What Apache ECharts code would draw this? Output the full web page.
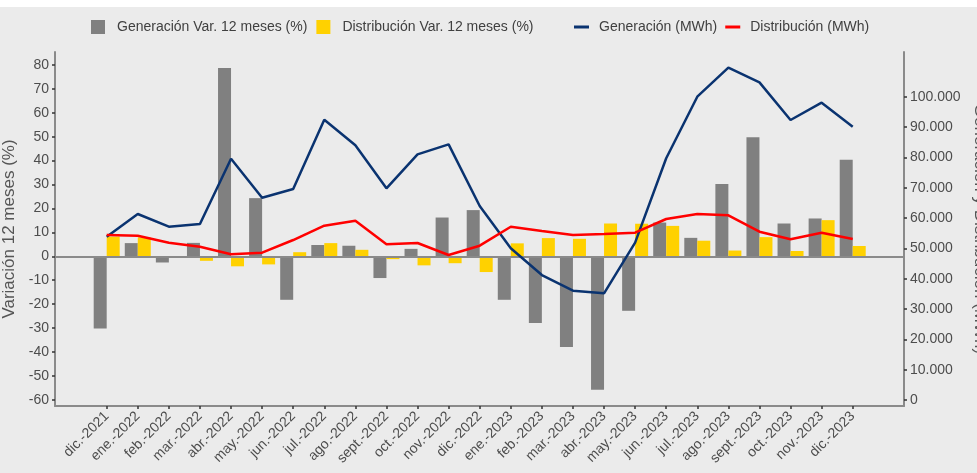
<!DOCTYPE html>
<html>
<head>
<meta charset="utf-8">
<script src="https://cdn.jsdelivr.net/npm/echarts@6/dist/echarts.min.js"></script>
<style>
html,body{margin:0;padding:0;background:#ffffff;}
#chart{position:absolute;left:0;top:7px;width:977px;height:466px;background:#EBEBEB;}
</style>
</head>
<body>
<div id="chart"></div>
<script>
const categories = ['dic.-2021','ene.-2022','feb.-2022','mar.-2022','abr.-2022','may.-2022','jun.-2022','jul.-2022','ago.-2022','sept.-2022','oct.-2022','nov.-2022','dic.-2022','ene.-2023','feb.-2023','mar.-2023','abr.-2023','may.-2023','jun.-2023','jul.-2023','ago.-2023','sept.-2023','oct.-2023','nov.-2023','dic.-2023'];
const genVar = [-30.2, 5.5, -2.6, 5.6, 78.7, 24.3, -18.2, 4.7, 4.4, -9.1, 3.1, 16.2, 19.3, -18.2, -27.9, -37.9, -55.8, -22.8, 14.1, 7.7, 30.2, 49.8, 13.7, 15.8, 40.3];
const distVar = [8.2, 7.9, -0.5, -1.9, -4.2, -3.4, 1.7, 5.5, 2.7, -1.2, -3.8, -2.9, -6.6, 5.4, 7.6, 7.3, 13.7, 13.6, 12.7, 6.5, 2.4, 8.0, 2.2, 15.1, 4.3];
const genMWh = [53840, 61330, 57140, 58030, 79560, 66700, 69570, 92420, 83970, 69790, 81000, 84300, 63960, 50020, 41210, 36040, 35170, 51870, 79690, 100000, 109560, 104740, 92320, 98020, 90110];
const distMWh = [54400, 54170, 51870, 50550, 48030, 48570, 52750, 57470, 59120, 51330, 51760, 47800, 50880, 57140, 55720, 54400, 54730, 55160, 59680, 61330, 60890, 55490, 52980, 55160, 53080];
const leftTicks = [-60, -50, -40, -30, -20, -10, 0, 10, 20, 30, 40, 50, 60, 70, 80];
const rightTicks = [0, 10000, 20000, 30000, 40000, 50000, 60000, 70000, 80000, 90000, 100000];
const catIndex = categories.map((c, i) => i);

const pair = arr => arr.map((v, i) => [i, v]);
const fmtThousands = v => String(v).replace(/\B(?=(\d{3})+(?!\d))/g, '.');

const FONT = 'Liberation Sans, Arial, sans-serif';
const LABEL = '#4d4d4d';
const AXIS = '#8a8a8a';

const chart = echarts.init(document.getElementById('chart'), null, {renderer: 'canvas'});
chart.setOption({
  animation: false,
  textStyle: {fontFamily: FONT},
  legend: [
    {
      left: 86, top: 8,
      itemWidth: 14, itemHeight: 14, itemGap: 9,
      icon: 'rect',
      textStyle: {fontSize: 14, color: '#404040', fontFamily: FONT, padding: [0, 0, 0, 7]},
      data: ['Generación Var. 12 meses (%)', 'Distribución Var. 12 meses (%)']
    },
    {
      left: 569, top: 8,
      itemWidth: 15, itemHeight: 3, itemGap: 8,
      icon: 'rect',
      textStyle: {fontSize: 14, color: '#404040', fontFamily: FONT, padding: [0, 0, 0, 5]},
      data: ['Generación (MWh)', 'Distribución (MWh)']
    }
  ],
  grid: {left: 55, right: 73, top: 45, bottom: 67, containLabel: false, outerBoundsMode: 'none'},
  xAxis: {
    type: 'value',
    min: -1.663, max: 25.65,
    axisLine: {show: true, onZero: false, lineStyle: {color: AXIS, width: 2}},
    axisTick: {show: true, length: 3, customValues: catIndex, lineStyle: {color: '#333', width: 1.5}},
    axisLabel: {
      customValues: catIndex,
      rotate: 45, margin: 8, fontSize: 14, color: LABEL, fontFamily: FONT,
      formatter: v => categories[Math.round(v)] || ''
    },
    splitLine: {show: false}
  },
  yAxis: [
    {
      type: 'value', position: 'left',
      min: -62.6, max: 85.4,
      name: 'Variación 12 meses (%)', nameLocation: 'middle', nameGap: 30,
      nameTextStyle: {fontSize: 17, color: '#555', fontFamily: FONT},
      axisLine: {show: true, onZero: false, lineStyle: {color: AXIS, width: 2}},
      axisTick: {show: true, length: 3, customValues: leftTicks, lineStyle: {color: '#333', width: 1.5}},
      axisLabel: {customValues: leftTicks, margin: 6, fontSize: 14, color: LABEL, fontFamily: FONT},
      splitLine: {show: false}
    },
    {
      type: 'value', position: 'right',
      min: -1978, max: 114740,
      name: 'Generación y Distribución (MWh)', nameLocation: 'middle', nameGap: 66, nameRotate: -90,
      nameTextStyle: {fontSize: 17, color: '#555', fontFamily: FONT},
      axisLine: {show: true, onZero: false, lineStyle: {color: AXIS, width: 2}},
      axisTick: {show: true, length: 3, customValues: rightTicks, lineStyle: {color: '#333', width: 1.5}},
      axisLabel: {customValues: rightTicks, margin: 6, fontSize: 14, color: LABEL, fontFamily: FONT,
        formatter: v => fmtThousands(v)},
      splitLine: {show: false}
    }
  ],
  series: [
    {
      name: 'Generación Var. 12 meses (%)', type: 'bar', yAxisIndex: 0,
      barWidth: 13, barGap: '0%',
      itemStyle: {color: '#808080'},
      data: pair(genVar),
      markLine: {
        silent: true, symbol: 'none', label: {show: false},
        lineStyle: {color: '#8a8a8a', width: 2, type: 'solid'},
        data: [{yAxis: 0}],
        z: 5
      }
    },
    {
      name: 'Distribución Var. 12 meses (%)', type: 'bar', yAxisIndex: 0,
      barWidth: 13, barGap: '0%',
      itemStyle: {color: '#FFD100'},
      data: pair(distVar)
    },
    {
      name: 'Generación (MWh)', type: 'line', yAxisIndex: 1,
      symbol: 'none', z: 10,
      lineStyle: {color: '#0A3370', width: 2.5},
      itemStyle: {color: '#0A3370'},
      data: pair(genMWh)
    },
    {
      name: 'Distribución (MWh)', type: 'line', yAxisIndex: 1,
      symbol: 'none', z: 10,
      lineStyle: {color: '#FF0000', width: 2.5},
      itemStyle: {color: '#FF0000'},
      data: pair(distMWh)
    }
  ]
});
</script>
</body>
</html>
